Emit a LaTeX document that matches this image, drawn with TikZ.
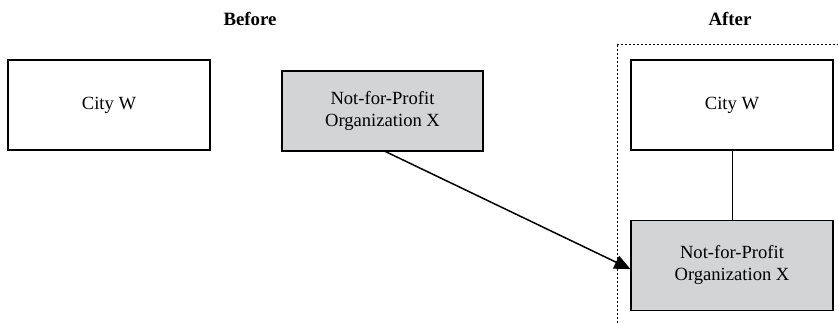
\documentclass[tikz,border=0pt]{standalone}
\usepackage{tikz}
\usepackage{xcolor}
\usepackage{fontspec}
\setmainfont{Liberation Serif}
\usetikzlibrary{positioning, arrows.meta}
\definecolor{cORG}{HTML}{D3D4D6}
\tikzset{
  entbox/.style={
    draw=black, line width=1.1pt,
    fill=#1,
    text=black,
    align=center,
    minimum width=202pt,
    minimum height=90pt,
    inner sep=2pt,
    font=\fontsize{18.6}{22}\selectfont
  },
  entbox/.default=white,
  heading/.style={
    font=\fontsize{18.8}{22}\selectfont\bfseries
  },
  moveto/.style={
    -{Triangle[length=16pt,width=14pt]},
    line width=1.5pt,
    draw=black
  },
  link/.style={
    line width=1pt,
    draw=black
  },
  groupframe/.style={
    draw=black, line width=1pt,
    dash pattern=on 2pt off 2pt
  }
}

\begin{document}
\begin{tikzpicture}[x=1pt, y=-1pt]
  \useasboundingbox (0,0) rectangle (838,323);
  \node[heading] (before) at (250,19) {Before};
  \node[heading] (after) at (730,19) {After};

  \node[entbox] (cityL) at (109,105) {City W};
  \node[entbox=cORG, minimum width=201pt, minimum height=80pt] (orgL) at (382.5,111) {Not-for-Profit\\Organization X};

  % after the change
  \draw[groupframe] (617,45) rectangle (860,345);
  \node[entbox] (cityR) at (732,105) {City W};
  \node[entbox=cORG, below=69pt of cityR] (orgR) {Not-for-Profit\\Organization X};

  \draw[link] (cityR) -- (orgR);
  \draw[moveto] ([xshift=3pt]orgL.south) -- ([yshift=-4pt]orgR.west);
\end{tikzpicture}
\end{document}
